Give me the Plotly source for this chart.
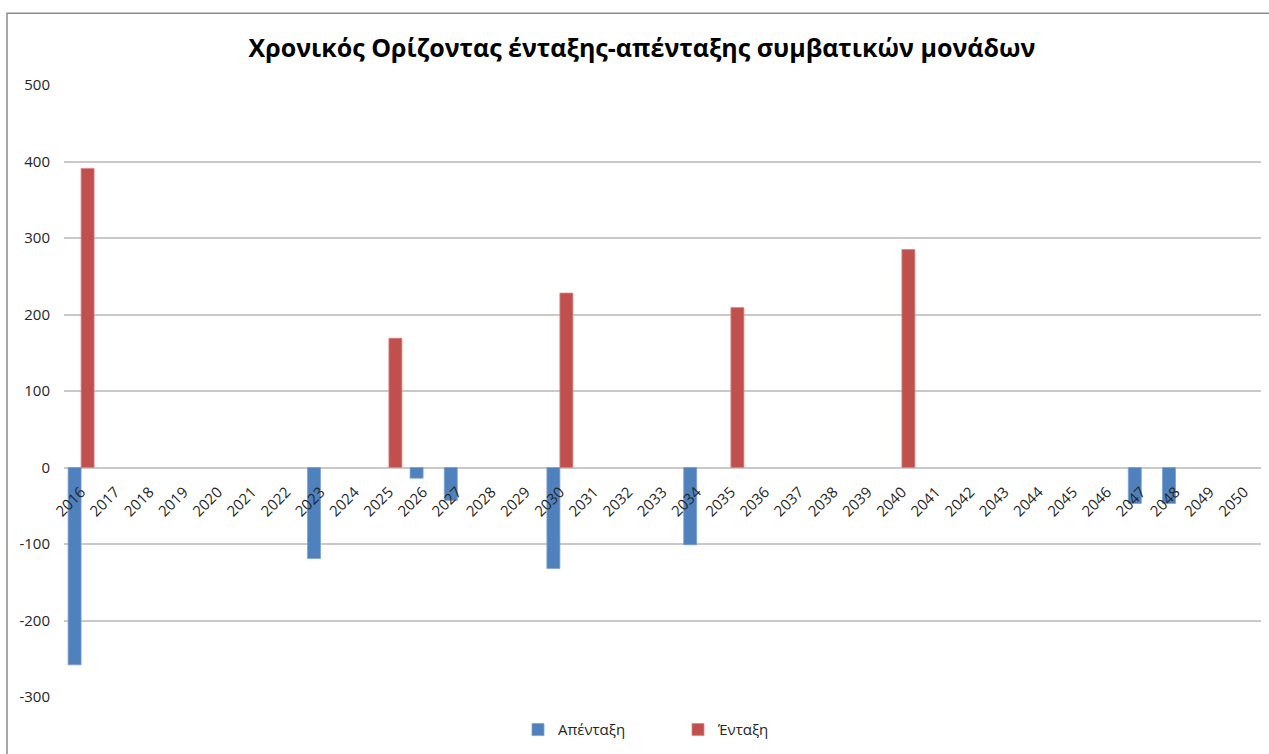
import plotly.graph_objects as go

years = [str(y) for y in range(2016, 2051)]
apentaxi = {"2016": -258, "2023": -119, "2026": -14, "2027": -43, "2030": -132,
            "2034": -101, "2047": -47, "2048": -47}
entaxi = {"2016": 391, "2025": 169, "2030": 228, "2035": 209, "2040": 285}
apentaxi_vals = [apentaxi.get(y) for y in years]
entaxi_vals = [entaxi.get(y) for y in years]
y_ticks = [-300, -200, -100, 0, 100, 200, 300, 400, 500]
y_tick_labels = ["-300", "-200", "-100", "0", "100", "200", "300", "400", "500"]

W, H = 1269, 754
L, R, T, B = 64, W - 1261, 85, H - 700
pw, ph = W - L - R, H - T - B

def px_x(x):
    return (x - L) / pw

def px_y(y):
    return (H - B - y) / ph

FONT = "Open Sans"
TXT = "#262626"

fig = go.Figure()
fig.add_trace(go.Bar(x=years, y=apentaxi_vals, name="Απένταξη",
                     marker=dict(color="#4f81bd", line=dict(color="#7da0d0", width=0.8))))
fig.add_trace(go.Bar(x=years, y=entaxi_vals, name="Ένταξη",
                     marker=dict(color="#c0504d", line=dict(color="#d98482", width=0.8))))

fig.update_layout(
    width=W, height=H,
    margin=dict(l=L, r=R, t=T, b=B),
    paper_bgcolor="white", plot_bgcolor="white",
    barmode="group", bargap=0.24, bargroupgap=0,
    font=dict(family=FONT, color=TXT, size=15),
    title=dict(text="Χρονικός Ορίζοντας ένταξης-απένταξης συμβατικών μονάδων",
               x=642 / W, xanchor="center", xref="container",
               y=1 - 48 / H, yanchor="middle", yref="container",
               font=dict(family=FONT, size=25, color="#000000", weight="bold")),
    showlegend=True,
    legend=dict(orientation="h", x=px_x(518), xanchor="left",
                y=px_y(733), yanchor="middle",
                entrywidth=115, entrywidthmode="pixels",
                font=dict(size=15, color=TXT), bgcolor="rgba(0,0,0,0)"),
    xaxis=dict(type="category", anchor="free", position=0.375,
               showgrid=False, showline=False, ticks="", zeroline=False,
               tickangle=-45, ticklabelstandoff=12,
               tickfont=dict(size=15, color=TXT)),
    yaxis=dict(range=[-300, 500], tickvals=y_ticks, ticktext=y_tick_labels,
               showgrid=True, gridcolor="#c9c9c9", gridwidth=1.5,
               zeroline=True, zerolinecolor="#c9c9c9", zerolinewidth=1.5,
               showline=False, ticks="", ticklabelstandoff=13,
               tickfont=dict(size=15, color=TXT)),
    shapes=[dict(type="rect", xref="paper", yref="paper",
                 x0=px_x(7), x1=px_x(1275), y0=px_y(760), y1=px_y(13),
                 line=dict(color="#8c8c8c", width=1.5), layer="below")],
)

fig.write_html("out.html")
